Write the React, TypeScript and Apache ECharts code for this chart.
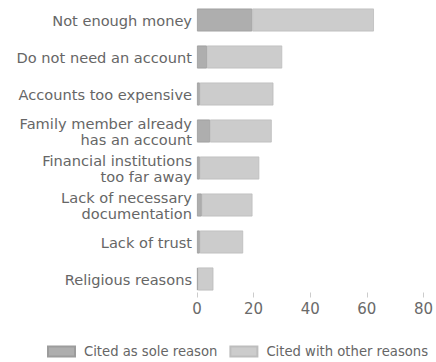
import React, { useEffect, useRef } from "react";
import * as echarts from "echarts";

const categories = [
  "Not enough money",
  "Do not need an account",
  "Accounts too expensive",
  "Family member already\nhas an account",
  "Financial institutions\ntoo far away",
  "Lack of necessary\ndocumentation",
  "Lack of trust",
  "Religious reasons",
];
const soleReason = [19.5, 3.5, 1, 4.6, 1, 1.7, 1, 0.3];
const otherReasons = [43, 26.6, 26, 21.8, 21, 17.9, 15.3, 5.5];
const xTicks = [0, 20, 40, 60, 80];

const FONT = "DejaVu Sans";

export default function App() {
  const ref = useRef<HTMLDivElement>(null);
  useEffect(() => {
    if (!ref.current) return;
    const chart = echarts.init(ref.current, null, { renderer: "svg" });
    chart.setOption({
      animation: false,
      textStyle: { fontFamily: FONT },
      grid: { left: 197, right: 9, top: 1.5, height: 296, containLabel: false },
      legend: {
        left: 42,
        top: 340,
        width: 394,
        itemWidth: 27,
        itemHeight: 10,
        itemGap: 12,
        icon: "rect",
        padding: [5, 0, 5, 5],
        textStyle: { fontFamily: FONT, fontSize: 13.2, color: "#666", padding: [0, 0, 0, 4] },
        data: ["Cited as sole reason", "Cited with other reasons"],
      },
      xAxis: {
        type: "value",
        min: xTicks[0],
        max: xTicks[xTicks.length - 1],
        interval: 20,
        splitLine: { show: false },
        axisLine: { show: false },
        axisTick: { show: true, inside: true, length: 5, lineStyle: { color: "#ccc" } },
        axisLabel: { fontFamily: FONT, fontSize: 15, color: "#6a6a6a", margin: 4 },
      },
      yAxis: {
        type: "category",
        inverse: true,
        data: categories,
        axisLine: { show: false },
        axisTick: { show: false },
        axisLabel: {
          fontFamily: FONT,
          fontSize: 14.6,
          color: "#666",
          margin: 5,
          lineHeight: 16,
        },
      },
      series: [
        {
          name: "Cited as sole reason",
          type: "bar",
          stack: "total",
          barWidth: 23,
          data: soleReason,
          itemStyle: { color: "#aeaeae", borderColor: "#9c9c9c", borderWidth: 0.8 },
        },
        {
          name: "Cited with other reasons",
          type: "bar",
          stack: "total",
          barWidth: 23,
          data: otherReasons,
          itemStyle: { color: "#cccccc", borderColor: "#bdbdbd", borderWidth: 0.8 },
        },
      ],
    });
    return () => chart.dispose();
  }, []);
  return (
    <div
      ref={ref}
      style={{ position: "absolute", left: 0, top: 0, width: 436, height: 362 }}
    />
  );
}
